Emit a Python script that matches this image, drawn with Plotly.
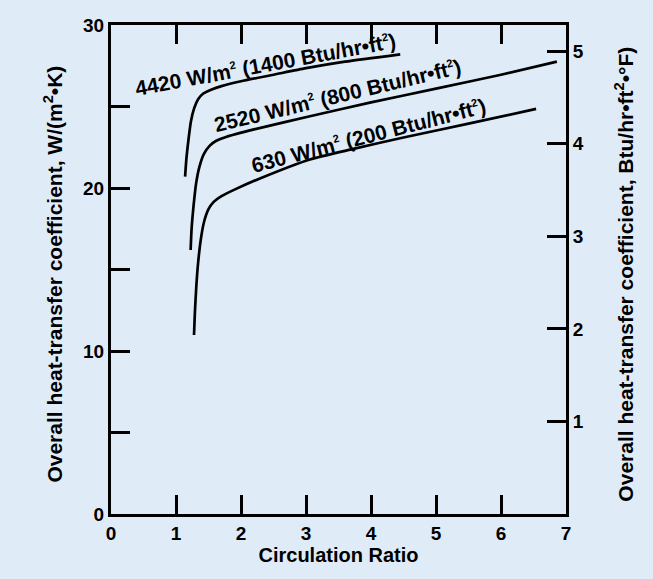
import plotly.graph_objects as go

# Circulation ratio (x) vs overall heat-transfer coefficient W/(m2 K) (y)
x_4420 = [1.14, 1.16, 1.19, 1.23, 1.28, 1.34, 1.42, 1.55, 1.70, 2.00, 2.50, 3.00, 3.60, 4.45]
y_4420 = [20.7, 21.8, 22.9, 24.1, 24.9, 25.45, 25.8, 26.05, 26.25, 26.55, 26.95, 27.35, 27.75, 28.2]

x_2520 = [1.225, 1.24, 1.27, 1.31, 1.36, 1.43, 1.52, 1.62, 1.78, 2.20, 3.06, 4.00, 5.00, 6.00, 6.86]
y_2520 = [16.2, 17.5, 18.9, 20.3, 21.3, 22.1, 22.6, 22.9, 23.15, 23.6, 24.4, 25.25, 26.1, 26.95, 27.75]

x_630 = [1.277, 1.29, 1.31, 1.34, 1.38, 1.43, 1.50, 1.58, 1.70, 1.90, 2.30, 3.06, 3.73, 4.50, 5.50, 6.54]
y_630 = [10.98, 12.3, 13.8, 15.4, 16.8, 17.9, 18.7, 19.15, 19.5, 19.9, 20.6, 21.75, 22.4, 23.1, 23.95, 24.85]

SUP2 = "<sup><span style='font-size:11px'>2</span></sup>"
labels = [
    "4420 W/m" + SUP2 + " (1400 Btu/hr\u2022ft" + SUP2 + ")",
    "2520 W/m" + SUP2 + " (800 Btu/hr\u2022ft" + SUP2 + ")",
    "630 W/m" + SUP2 + " (200 Btu/hr\u2022ft" + SUP2 + ")",
]
label_x = [2.37, 3.485, 3.96]
label_y = [27.6, 25.7, 23.2]
label_angle = [-10.5, -13.5, -14.5]

x_ticks = [0, 1, 2, 3, 4, 5, 6, 7]
y_ticks = [0, 5, 10, 15, 20, 25, 30]
y_ticktext = ["0", "", "10", "", "20", "", "30"]
y2_ticks = [1, 2, 3, 4, 5]
W_PER_BTU = 5.678

BG = "#DFECF8"
FONT = "Liberation Sans, Arial, sans-serif"

fig = go.Figure()
for xs, ys in [(x_4420, y_4420), (x_2520, y_2520), (x_630, y_630)]:
    fig.add_trace(go.Scatter(x=xs, y=ys, mode="lines",
                             line=dict(color="black", width=2.7, shape="spline", smoothing=0.6),
                             showlegend=False, hoverinfo="skip"))
fig.add_trace(go.Scatter(x=[None], y=[None], yaxis="y2", showlegend=False))

for t, lx, ly, ang in zip(labels, label_x, label_y, label_angle):
    fig.add_annotation(x=lx, y=ly, text=t, showarrow=False, textangle=ang,
                       font=dict(family=FONT, size=21, color="black", weight="bold"))

# axis titles
fig.add_annotation(xref="paper", yref="paper", x=-0.127, y=0.49, textangle=-90,
                   xanchor="center", yanchor="middle",
                   text="Overall heat-transfer coefficient, W/(m<sup>2</sup>\u2022K)",
                   showarrow=False, font=dict(family=FONT, size=21, color="black", weight="bold"))
fig.add_annotation(xref="paper", yref="paper", x=1.128, y=0.49, textangle=-90,
                   xanchor="center", yanchor="middle",
                   text="Overall heat-transfer coefficient, Btu/hr\u2022ft<sup>2</sup>\u2022\u00b0F)",
                   showarrow=False, font=dict(family=FONT, size=21, color="black", weight="bold"))

axis_common = dict(showgrid=False, zeroline=False, showline=True, linecolor="black",
                   linewidth=3, ticks="inside", ticklen=19, tickwidth=3, tickcolor="black",
                   tickfont=dict(family=FONT, size=19, color="black", weight="bold"))

fig.update_layout(
    width=653, height=579,
    paper_bgcolor=BG, plot_bgcolor=BG,
    margin=dict(l=111, r=87, t=25, b=65),
    xaxis=dict(range=[0, 7], tickvals=x_ticks, mirror="ticks",
               title=dict(text="Circulation Ratio", standoff=2,
                          font=dict(family=FONT, size=20, color="black", weight="bold")),
               **axis_common),
    yaxis=dict(range=[0, 30], tickvals=y_ticks, ticktext=y_ticktext, **axis_common),
    yaxis2=dict(range=[0, 30 / W_PER_BTU], tickvals=y2_ticks, overlaying="y", side="right",
                **axis_common),
)

fig.write_html("out.html",
               config={"displayModeBar": False},
               post_script="document.body.style.margin='0px';"
                           "document.body.style.background='" + BG + "';")
